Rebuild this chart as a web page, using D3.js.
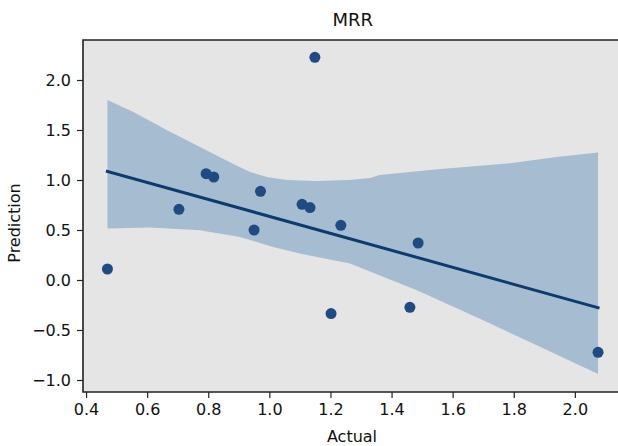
<!DOCTYPE html>
<html>
<head>
<meta charset="utf-8">
<script src="https://cdn.jsdelivr.net/npm/d3@7"></script>
<style>
  html, body { margin: 0; padding: 0; background: #fff; }
  svg text { font-family: "DejaVu Sans", sans-serif; fill: #111; }
</style>
</head>
<body>
<div id="chart"></div>
<script>
// data
const actual = [0.47, 0.704, 0.793, 0.818, 0.95, 0.971, 1.107, 1.133, 1.149, 1.234, 1.202, 1.487, 1.46, 2.076];
const prediction = [0.11, 0.707, 1.063, 1.03, 0.50, 0.887, 0.757, 0.724, 2.227, 0.547, -0.336, 0.37, -0.273, -0.723];

// confidence band edges (bootstrap band)
const band_upper_x = [0.47, 0.555, 0.664, 0.773, 0.882, 0.937, 0.992, 1.057, 1.155, 1.26, 1.33, 1.36, 1.56, 1.78, 1.94, 2.076];
const band_upper_y = [1.80, 1.68, 1.50, 1.33, 1.16, 1.08, 1.03, 1.00, 0.99, 1.00, 1.02, 1.05, 1.11, 1.165, 1.23, 1.275];
const band_lower_x = [0.47, 0.609, 0.773, 0.904, 1.012, 1.10, 1.264, 1.483, 1.70, 1.863, 2.076];
const band_lower_y = [0.514, 0.524, 0.497, 0.43, 0.33, 0.264, 0.164, -0.103, -0.403, -0.636, -0.94];

const x_ticks = [0.4, 0.6, 0.8, 1.0, 1.2, 1.4, 1.6, 1.8, 2.0];
const y_ticks = [-1.0, -0.5, 0.0, 0.5, 1.0, 1.5, 2.0];
const x_limits = [0.39, 2.156];
const y_limits = [-1.12, 2.40];

const chart_title = "MRR";
const x_title = "Actual";
const y_title = "Prediction";

// layout
const width = 618, height = 446;
const plot_left = 83, plot_right = 622.5, plot_top = 40, plot_bottom = 392;

const svg = d3.select("#chart").append("svg")
	.attr("width", width)
	.attr("height", height);

const x = d3.scaleLinear().domain(x_limits).range([plot_left, plot_right]);
const y = d3.scaleLinear().domain(y_limits).range([plot_bottom, plot_top]);

svg.append("rect")
	.attr("x", plot_left)
	.attr("y", plot_top)
	.attr("width", plot_right - plot_left)
	.attr("height", plot_bottom - plot_top)
	.attr("fill", "#e5e5e5");

// band: upper edge left->right, lower edge right->left
const upper = band_upper_x.map((d, i) => [d, band_upper_y[i]]);
const lower = band_lower_x.map((d, i) => [d, band_lower_y[i]]).reverse();
svg.append("path")
	.attr("d", d3.line().x(d => x(d[0])).y(d => y(d[1]))(upper.concat(lower)) + "Z")
	.attr("fill", "#a6bcd1");

// least squares fit
const mx = d3.mean(actual), my = d3.mean(prediction);
const sxy = d3.sum(actual, (d, i) => (d - mx) * (prediction[i] - my));
const sxx = d3.sum(actual, d => (d - mx) * (d - mx));
const slope = sxy / sxx, intercept = my - slope * mx;
const x_ext = d3.extent(actual);

svg.append("line")
	.attr("x1", x(x_ext[0]))
	.attr("y1", y(intercept + slope * x_ext[0]))
	.attr("x2", x(x_ext[1]))
	.attr("y2", y(intercept + slope * x_ext[1]))
	.attr("stroke", "#0e3b6d")
	.attr("stroke-width", 3)
	.attr("stroke-linecap", "square");

svg.selectAll("circle.pt")
	.data(actual)
	.join("circle")
	.attr("class", "pt")
	.attr("cx", d => x(d))
	.attr("cy", (d, i) => y(prediction[i]))
	.attr("r", 5.5)
	.attr("fill", "#1f4b82");

// axes
const fmt = d => d3.format(".1f")(d).replace("-", "\u2212");

const x_axis = svg.append("g")
	.attr("transform", `translate(0,${plot_bottom})`)
	.call(d3.axisBottom(x).tickValues(x_ticks).tickFormat(fmt).tickSize(6).tickPadding(6));
const y_axis = svg.append("g")
	.attr("transform", `translate(${plot_left},0)`)
	.call(d3.axisLeft(y).tickValues(y_ticks).tickFormat(fmt).tickSize(6).tickPadding(6));

[x_axis, y_axis].forEach(g => {
	g.select(".domain").remove();
	g.selectAll(".tick line").attr("stroke", "#222").attr("stroke-width", 1.2);
	g.selectAll(".tick text").attr("font-size", 16).attr("fill", "#111")
		.attr("font-family", "DejaVu Sans, sans-serif");
});

// spines: left, bottom, top (right lies outside the picture)
svg.append("path")
	.attr("d", `M${plot_right},${plot_top}H${plot_left}V${plot_bottom}H${plot_right}`)
	.attr("fill", "none")
	.attr("stroke", "#222")
	.attr("stroke-width", 1.6);

svg.append("text")
	.attr("x", (plot_left + plot_right) / 2)
	.attr("y", 26)
	.attr("text-anchor", "middle")
	.attr("font-size", 18)
	.text(chart_title);

svg.append("text")
	.attr("x", 352)
	.attr("y", 442)
	.attr("text-anchor", "middle")
	.attr("font-size", 16)
	.text(x_title);

svg.append("text")
	.attr("transform", "translate(20,223) rotate(-90)")
	.attr("text-anchor", "middle")
	.attr("font-size", 16)
	.text(y_title);
</script>
</body>
</html>
